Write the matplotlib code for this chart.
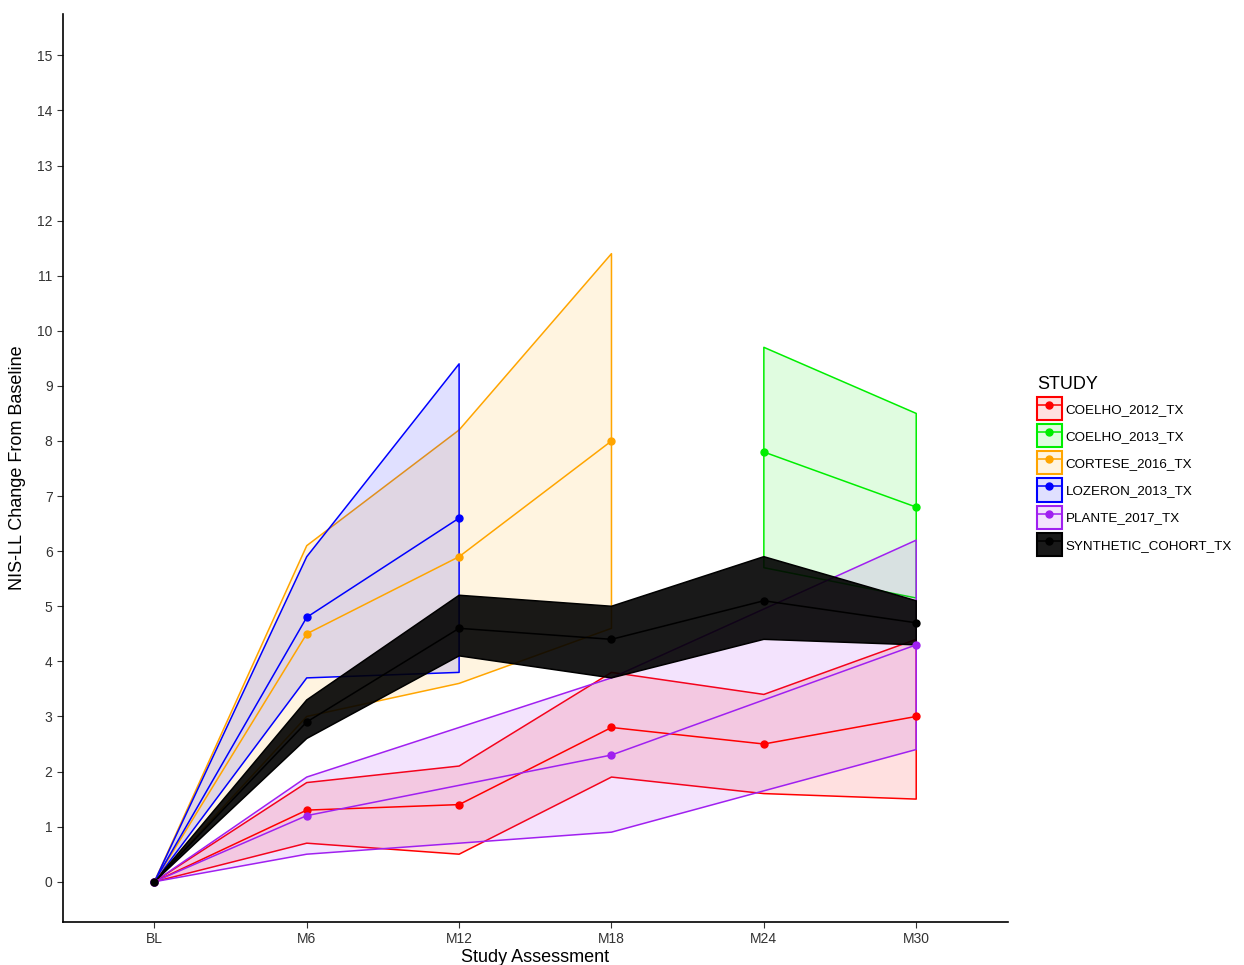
import matplotlib
matplotlib.use("Agg")
import matplotlib.pyplot as plt
from matplotlib.patches import Patch
from matplotlib.lines import Line2D

plt.rcParams['font.family'] = ['Liberation Sans', 'DejaVu Sans']

visits = ['BL', 'M6', 'M12', 'M18', 'M24', 'M30']

# mean change and ribbon bounds per study (x = index into visits)
coelho12_x = [0, 1, 2, 3, 4, 5]
coelho12_mean = [0, 1.3, 1.4, 2.8, 2.5, 3.0]
coelho12_lo = [0, 0.7, 0.5, 1.9, 1.6, 1.5]
coelho12_hi = [0, 1.8, 2.1, 3.8, 3.4, 4.4]

coelho13_x = [4, 5]
coelho13_mean = [7.8, 6.8]
coelho13_lo = [5.7, 5.15]
coelho13_hi = [9.7, 8.5]

cortese_x = [0, 1, 2, 3]
cortese_mean = [0, 4.5, 5.9, 8.0]
cortese_lo = [0, 3.0, 3.6, 4.6]
cortese_hi = [0, 6.1, 8.2, 11.4]

lozeron_x = [0, 1, 2]
lozeron_mean = [0, 4.8, 6.6]
lozeron_lo = [0, 3.7, 3.8]
lozeron_hi = [0, 5.9, 9.4]

plante_x = [0, 1, 3, 5]
plante_mean = [0, 1.2, 2.3, 4.3]
plante_lo = [0, 0.5, 0.9, 2.4]
plante_hi = [0, 1.9, 3.7, 6.2]

synth_x = [0, 1, 2, 3, 4, 5]
synth_mean = [0, 2.9, 4.6, 4.4, 5.1, 4.7]
synth_lo = [0, 2.6, 4.1, 3.7, 4.4, 4.3]
synth_hi = [0, 3.3, 5.2, 5.0, 5.9, 5.1]

studies = [
    ('COELHO_2012_TX', '#FF0000', 0.12, coelho12_x, coelho12_mean, coelho12_lo, coelho12_hi),
    ('COELHO_2013_TX', '#00EE00', 0.12, coelho13_x, coelho13_mean, coelho13_lo, coelho13_hi),
    ('CORTESE_2016_TX', '#FFA500', 0.12, cortese_x, cortese_mean, cortese_lo, cortese_hi),
    ('LOZERON_2013_TX', '#0000FF', 0.12, lozeron_x, lozeron_mean, lozeron_lo, lozeron_hi),
    ('PLANTE_2017_TX', '#A020F0', 0.12, plante_x, plante_mean, plante_lo, plante_hi),
    ('SYNTHETIC_COHORT_TX', '#000000', 0.9, synth_x, synth_mean, synth_lo, synth_hi),
]

fig = plt.figure(figsize=(12.44, 9.65), dpi=100)
ax = fig.add_axes([0.0506, 0.0446, 0.7594, 0.9409])

handles = []
for i, (name, col, alpha, x, m, lo, hi) in enumerate(studies):
    ax.fill_between(x, lo, hi, facecolor=col, alpha=alpha, linewidth=0, zorder=1 + i * 0.1)
    ax.fill_between(x, lo, hi, facecolor='none', edgecolor=col, linewidth=1.1, zorder=1 + i * 0.1)
for name, col, alpha, x, m, lo, hi in studies:
    ax.plot(x, m, color=col, linewidth=1.1, zorder=3)
    ax.plot(x, m, 'o', color=col, markersize=5, zorder=4)
    handles.append((Patch(facecolor=col, alpha=alpha, edgecolor='none'),
                    Patch(facecolor='none', edgecolor=col, linewidth=1.5),
                    Line2D([], [], color=col, marker='o', markersize=5, linewidth=1.1)))

ax.set_xlim(-0.6, 5.6)
ax.set_ylim(-0.73, 15.75)
ax.set_xticks(range(len(visits)))
ax.set_xticklabels(visits)
ax.set_yticks(range(0, 16))
ax.tick_params(axis='both', labelsize=10, labelcolor='#333333', length=4, color='#333333')
for s in ['top', 'right']:
    ax.spines[s].set_visible(False)
for s in ['left', 'bottom']:
    ax.spines[s].set_linewidth(1.2)

ax.set_xlabel('Study Assessment', fontsize=13, labelpad=2)
ax.set_ylabel('NIS-LL Change From Baseline', fontsize=13, labelpad=8)

leg = fig.legend(handles, [s[0] for s in studies], title='STUDY',
                 loc='upper left', bbox_to_anchor=(0.8293, 0.616),
                 frameon=False, fontsize=9.6, title_fontsize=13,
                 handlelength=1.85, handleheight=2.3, handletextpad=0.3,
                 labelspacing=0.3, borderaxespad=0)
leg._legend_box.align = 'left'

fig.savefig('out.png', dpi=100)
